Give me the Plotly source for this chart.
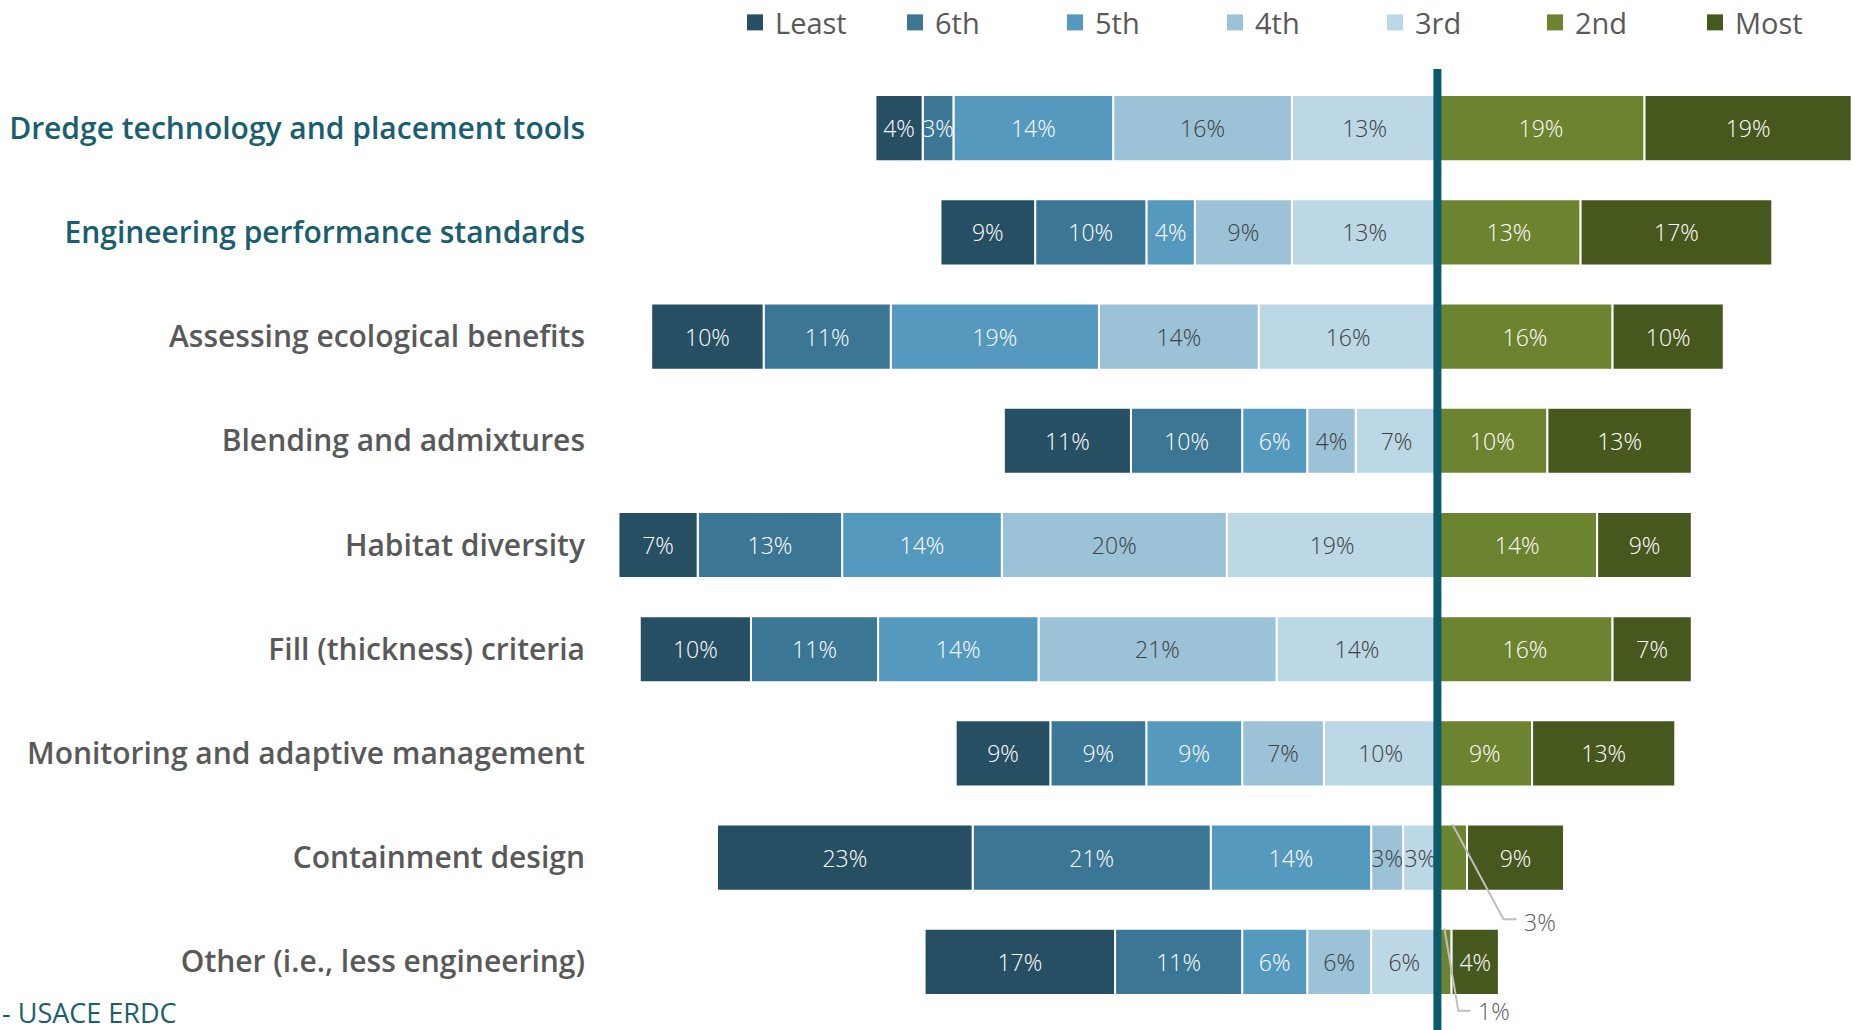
import plotly.graph_objects as go

categories = [
    "Dredge technology and placement tools",
    "Engineering performance standards",
    "Assessing ecological benefits",
    "Blending and admixtures",
    "Habitat diversity",
    "Fill (thickness) criteria",
    "Monitoring and adaptive management",
    "Containment design",
    "Other (i.e., less engineering)",
]
highlight = [True, True, False, False, False, False, False, False, False]

# shares of respondents (%) per rank (labels are rounded)
least = [4.26, 8.53, 10.13, 11.45, 7.14, 10.02, 8.53, 23.03, 17.16]
sixth = [2.77, 10.02, 11.45, 10.02, 13.01, 11.45, 8.64, 21.45, 11.45]
fifth = [14.39, 4.37, 18.76, 5.86, 14.39, 14.45, 8.64, 14.45, 5.86]
fourth = [16.10, 8.74, 14.39, 4.37, 20.26, 21.45, 7.36, 2.88, 5.76]
third = [13.11, 13.11, 16.10, 7.36, 18.98, 14.49, 10.23, 3.09, 5.97]
second = [18.66, 12.90, 15.78, 9.91, 14.39, 15.78, 8.53, 2.67, 1.28]
most = [18.66, 17.27, 10.02, 13.01, 8.53, 7.14, 12.90, 8.74, 4.26]

legend_order = ["Least", "6th", "5th", "4th", "3rd", "2nd", "Most"]
colors = {
    "Least": "#274F64", "6th": "#3B7694", "5th": "#5699BE", "4th": "#9BC2D7",
    "3rd": "#BCD7E6", "2nd": "#6C8330", "Most": "#47581F",
}
text_colors = {
    "Least": "#FFFFFF", "6th": "#FFFFFF", "5th": "#FFFFFF", "4th": "#404040",
    "3rd": "#404040", "2nd": "#FFFFFF", "Most": "#FFFFFF",
}
# stacking order from the centre outwards: (name, values, side)
stack = [
    ("3rd", third, -1), ("4th", fourth, -1), ("5th", fifth, -1), ("6th", sixth, -1),
    ("Least", least, -1), ("2nd", second, 1), ("Most", most, 1),
]
# small segments labelled with callouts instead of inside text
callouts = {("2nd", 7), ("2nd", 8)}

FONT = "Open Sans"
TEAL = "#1A5E70"
GREY = "#595959"
PX_PER_PCT = 11.1
ZERO_PX = 1437.4
PLOT_L = 600

ypos = list(range(len(categories)))
fig = go.Figure()
for name, vals, side in stack:
    texts = ["" if (name, i) in callouts else f"{round(v)}%" for i, v in enumerate(vals)]
    fig.add_trace(go.Bar(
        name=name, y=ypos, x=[side * v for v in vals], orientation="h",
        marker=dict(color=colors[name], line=dict(color="#FFFFFF", width=2)),
        width=0.635, text=texts, textposition="inside", insidetextanchor="middle",
        textangle=0, constraintext="none", cliponaxis=False,
        textfont=dict(family=FONT, size=23, color=text_colors[name], weight=300),
        showlegend=False, hoverinfo="skip",
    ))

# legend entries (square swatches)
for rank, name in enumerate(legend_order):
    fig.add_trace(go.Scatter(
        name=name, x=[None], y=[None], mode="markers",
        marker=dict(symbol="square", size=17, color=colors[name]),
        showlegend=True, legendrank=rank + 1, hoverinfo="skip",
    ))

ticktext = [
    f'<span style="color:{TEAL if h else GREY}">{c}</span>'
    for c, h in zip(categories, highlight)
]

fig.update_layout(
    width=1855, height=1030,
    margin=dict(l=PLOT_L, r=0, t=76, b=16, autoexpand=False),
    barmode="relative", bargap=0.365,
    plot_bgcolor="white", paper_bgcolor="white",
    font=dict(family=FONT, color=GREY),
    xaxis=dict(visible=False, fixedrange=True,
               range=[-(ZERO_PX - PLOT_L) / PX_PER_PCT, (1855 - ZERO_PX) / PX_PER_PCT]),
    yaxis=dict(tickvals=ypos, ticktext=ticktext, range=[8.5, -0.5], showgrid=False,
               zeroline=False, showline=False, ticks="", ticklabelstandoff=14,
               tickfont=dict(family=FONT, size=30, color=GREY, weight=600)),
    legend=dict(orientation="h", x=1.0, xanchor="right", y=1.057, yanchor="middle",
                traceorder="normal", itemsizing="trace",
                font=dict(family=FONT, size=29, color=GREY),
                entrywidth=115, entrywidthmode="pixels", bgcolor="rgba(0,0,0,0)"),
    showlegend=True,
)

# centre divider
fig.add_shape(type="line", xref="x", yref="paper", x0=0, x1=0, y0=-0.02, y1=1.0075,
              line=dict(color="#0C5A6B", width=8), layer="above")

# callout leader lines
fig.add_shape(type="path", xref="x", yref="y", path="M 1.35 6.68 L 5.95 7.59 L 7.12 7.59",
              line=dict(color="#BFBFBF", width=2), layer="above")
fig.add_shape(type="path", xref="x", yref="y", path="M 0.63 7.68 L 1.89 8.47 L 2.97 8.47",
              line=dict(color="#BFBFBF", width=2), layer="above")
fig.add_annotation(x=7.6, y=7.62, xref="x", yref="y", text="3%", showarrow=False,
                   xanchor="left", yanchor="middle",
                   font=dict(family=FONT, size=23, color=GREY, weight=300))
fig.add_annotation(x=(ZERO_PX + 3.5 * PX_PER_PCT - PLOT_L) / 1255, y=0.003,
                   xref="paper", yref="paper", text="1%", showarrow=False,
                   xanchor="left", yanchor="middle",
                   font=dict(family=FONT, size=23, color=GREY, weight=300))

fig.add_annotation(x=-PLOT_L / 1255, y=0.002, xref="paper", yref="paper", text="- USACE ERDC",
                   showarrow=False, xanchor="left", yanchor="middle",
                   font=dict(family=FONT, size=27, color=TEAL))

fig.write_html("out.html")
